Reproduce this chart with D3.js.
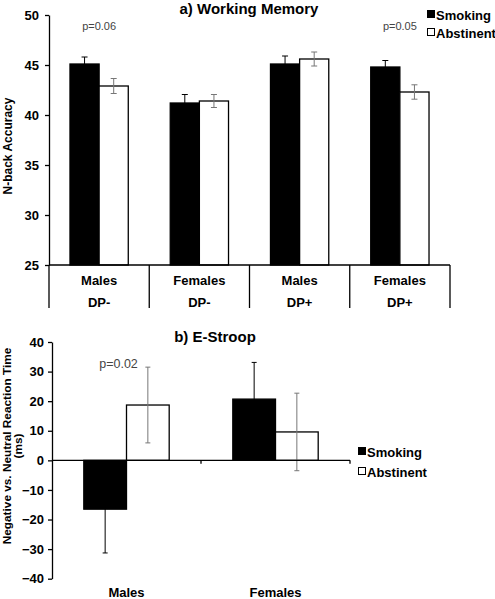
<!DOCTYPE html>
<html>
<head>
<meta charset="utf-8">
<script src="https://cdn.jsdelivr.net/npm/d3@7"></script>
<style>
  html, body { margin: 0; padding: 0; background: #fff; }
  svg { display: block; font-family: "Liberation Sans", Arial, sans-serif; }
</style>
</head>
<body>
<svg id="chart" width="495" height="599"></svg>
<script>
// ---------- data ----------
const seriesNames = ["Smoking", "Abstinent"];

// Panel a) Working Memory
const wmGenders = ["Males", "Females", "Males", "Females"];
const wmGroups = ["DP-", "DP-", "DP+", "DP+"];
const wmSmoking = [45.1, 41.2, 45.1, 44.8];
const wmSmokingSE = [0.7, 0.85, 0.8, 0.65];
const wmAbstinent = [42.9, 41.4, 45.6, 42.3];
const wmAbstinentSE = [0.75, 0.65, 0.7, 0.72];
const wmTicks = [25, 30, 35, 40, 45, 50];
const wmPvalues = [{cat: 0, text: "p=0.06"}, {cat: 3, text: "p=0.05"}];

// Panel b) E-Stroop
const esCategories = ["Males", "Females"];
const esSmoking = [-16.5, 20.7];
const esSmokingSE = [14.8, 12.4];
const esAbstinent = [18.7, 9.6];
const esAbstinentSE = [12.8, 13.1];
const esTicks = [-40, -30, -20, -10, 0, 10, 20, 30, 40];
const esPvalues = [{cat: 0, text: "p=0.02"}];

// ---------- drawing ----------
const svg = d3.select("#chart");
const fills = {Smoking: "#000", Abstinent: "#fff"};
const errColors = {Smoking: "#000", Abstinent: "#777"};

function legend(x, y, gap) {
  const g = svg.append("g").attr("transform", `translate(${x},${y})`);
  seriesNames.forEach((s, i) => {
    g.append("rect").attr("x", 0.5).attr("y", i * gap - 4.5).attr("width", 7).attr("height", 7)
      .attr("fill", fills[s]).attr("stroke", "#000").attr("stroke-width", 1);
    g.append("text").attr("x", 9).attr("y", i * gap).attr("dy", "0.35em")
      .attr("font-size", 13).attr("font-weight", "bold").text(s);
  });
}

// ===== Panel a =====
(function () {
  const left = 49, right = 450, top = 15, bottom = 265;
  const idx = d3.range(wmGenders.length);
  const x0 = d3.scaleBand().domain(idx).range([left, right]).padding(0);
  const x1 = d3.scaleBand().domain(seriesNames).range([0, x0.bandwidth()]).paddingInner(0).paddingOuter(0.72);
  const y = d3.scaleLinear().domain([25, 50]).range([bottom, top]);

  const rows = idx.map(i => ({i, vals: [
    {s: "Smoking", v: wmSmoking[i], e: wmSmokingSE[i]},
    {s: "Abstinent", v: wmAbstinent[i], e: wmAbstinentSE[i]}]}));

  const g = svg.append("g");
  const grp = g.selectAll("g.cat").data(rows).join("g")
    .attr("transform", d => `translate(${x0(d.i)},0)`);
  grp.selectAll("rect").data(d => d.vals).join("rect")
    .attr("x", d => x1(d.s)).attr("width", x1.bandwidth())
    .attr("y", d => y(d.v)).attr("height", d => y(25) - y(d.v))
    .attr("fill", d => fills[d.s]).attr("stroke", "#000").attr("stroke-width", 1.3);
  const eb = grp.selectAll("g.eb").data(d => d.vals).join("g")
    .attr("stroke", d => errColors[d.s]).attr("stroke-width", 1);
  eb.append("line").attr("x1", d => x1(d.s) + x1.bandwidth() / 2).attr("x2", d => x1(d.s) + x1.bandwidth() / 2)
    .attr("y1", d => y(d.v - d.e)).attr("y2", d => y(d.v + d.e));
  eb.append("line").attr("x1", d => x1(d.s) + x1.bandwidth() / 2 - 3).attr("x2", d => x1(d.s) + x1.bandwidth() / 2 + 3)
    .attr("y1", d => y(d.v + d.e)).attr("y2", d => y(d.v + d.e));
  eb.filter(d => d.s === "Abstinent").append("line")
    .attr("x1", d => x1(d.s) + x1.bandwidth() / 2 - 3).attr("x2", d => x1(d.s) + x1.bandwidth() / 2 + 3)
    .attr("y1", d => y(d.v - d.e)).attr("y2", d => y(d.v - d.e));

  const ya = g.append("g").attr("transform", `translate(${left},0)`)
    .call(d3.axisLeft(y).tickValues(wmTicks).tickSize(4).tickPadding(6).tickSizeOuter(0));
  ya.select(".domain").attr("stroke", "#000").attr("stroke-width", 1.3);
  ya.selectAll("text").attr("font-size", 13).attr("font-weight", "bold").attr("fill", "#000")
    .attr("font-family", "Liberation Sans, Arial, sans-serif");
  ya.selectAll(".tick line").attr("stroke-width", 1.3);

  const lineBottom = 308;
  g.append("line").attr("x1", left).attr("x2", right).attr("y1", bottom).attr("y2", bottom)
    .attr("stroke", "#000").attr("stroke-width", 1.3);
  const bounds = [left].concat(idx.map(i => x0(i) + x0.bandwidth()));
  g.selectAll("line.div").data(bounds).join("line")
    .attr("x1", d => d).attr("x2", d => d).attr("y1", bottom).attr("y2", lineBottom)
    .attr("stroke", "#000").attr("stroke-width", 1.3);
  g.selectAll("text.gen").data(idx).join("text")
    .attr("x", i => x0(i) + x0.bandwidth() / 2).attr("y", 280).attr("dy", "0.35em")
    .attr("text-anchor", "middle").attr("font-size", 13).attr("font-weight", "bold")
    .text(i => wmGenders[i]);
  g.selectAll("text.grp").data(idx).join("text")
    .attr("x", i => x0(i) + x0.bandwidth() / 2).attr("y", 302).attr("dy", "0.35em")
    .attr("text-anchor", "middle").attr("font-size", 13).attr("font-weight", "bold")
    .text(i => wmGroups[i]);

  g.selectAll("text.p").data(wmPvalues).join("text")
    .attr("x", d => x0(d.cat) + x0.bandwidth() / 2).attr("y", 26).attr("dy", "0.35em")
    .attr("text-anchor", "middle").attr("font-size", 11).attr("fill", "#444").text(d => d.text);

  g.append("text").attr("x", 249).attr("y", 13.5).attr("text-anchor", "middle")
    .attr("font-size", 15).attr("font-weight", "bold").text("a) Working Memory");
  g.append("text").attr("transform", "translate(8,146) rotate(-90)").attr("dy", "0.35em")
    .attr("text-anchor", "middle").attr("font-size", 12).attr("font-weight", "bold").text("N-back Accuracy");
  legend(427, 15, 18);
})();

// ===== Panel b =====
(function () {
  const left = 52, right = 350, top = 342, bottom = 578.7;
  const x0 = d3.scaleBand().domain(esCategories).range([left, right]).padding(0);
  const x1 = d3.scaleBand().domain(seriesNames).range([0, x0.bandwidth()]).paddingInner(0).paddingOuter(0.745);
  const y = d3.scaleLinear().domain([-40, 40]).range([bottom, top]);

  const rows = esCategories.map((c, i) => ({c, vals: [
    {s: "Smoking", v: esSmoking[i], e: esSmokingSE[i]},
    {s: "Abstinent", v: esAbstinent[i], e: esAbstinentSE[i]}]}));

  const g = svg.append("g");
  const grp = g.selectAll("g.cat").data(rows).join("g")
    .attr("transform", d => `translate(${x0(d.c)},0)`);
  grp.selectAll("rect").data(d => d.vals).join("rect")
    .attr("x", d => x1(d.s)).attr("width", x1.bandwidth())
    .attr("y", d => y(Math.max(0, d.v))).attr("height", d => Math.abs(y(d.v) - y(0)))
    .attr("fill", d => fills[d.s]).attr("stroke", "#000").attr("stroke-width", 1.3);
  const eb = grp.selectAll("g.eb").data(d => d.vals).join("g")
    .attr("stroke", d => errColors[d.s]).attr("stroke-width", 1);
  eb.append("line").attr("x1", d => x1(d.s) + x1.bandwidth() / 2).attr("x2", d => x1(d.s) + x1.bandwidth() / 2)
    .attr("y1", d => y(d.v - d.e)).attr("y2", d => y(d.v + d.e));
  eb.append("line").attr("x1", d => x1(d.s) + x1.bandwidth() / 2 - 2.5).attr("x2", d => x1(d.s) + x1.bandwidth() / 2 + 2.5)
    .attr("y1", d => y(d.v + d.e)).attr("y2", d => y(d.v + d.e));
  eb.append("line").attr("x1", d => x1(d.s) + x1.bandwidth() / 2 - 2.5).attr("x2", d => x1(d.s) + x1.bandwidth() / 2 + 2.5)
    .attr("y1", d => y(d.v - d.e)).attr("y2", d => y(d.v - d.e));

  const ya = g.append("g").attr("transform", `translate(${left},0)`)
    .call(d3.axisLeft(y).tickValues(esTicks).tickSize(4).tickPadding(4).tickSizeOuter(0));
  ya.select(".domain").attr("stroke", "#000").attr("stroke-width", 1.3);
  ya.selectAll("text").attr("font-size", 13).attr("font-weight", "bold").attr("fill", "#000")
    .attr("font-family", "Liberation Sans, Arial, sans-serif");
  ya.selectAll(".tick line").attr("stroke-width", 1.3);

  g.append("line").attr("x1", left).attr("x2", right).attr("y1", y(0)).attr("y2", y(0))
    .attr("stroke", "#000").attr("stroke-width", 1.3);
  const bounds = esCategories.map(c => x0(c) + x0.bandwidth());
  g.selectAll("line.tk").data(bounds).join("line")
    .attr("x1", d => d).attr("x2", d => d).attr("y1", y(0)).attr("y2", y(0) + 3.5)
    .attr("stroke", "#000").attr("stroke-width", 1.3);
  g.selectAll("text.cat").data(esCategories).join("text")
    .attr("x", c => x0(c) + x0.bandwidth() / 2).attr("y", 597)
    .attr("text-anchor", "middle").attr("font-size", 13).attr("font-weight", "bold").text(c => c);

  g.selectAll("text.p").data(esPvalues).join("text")
    .attr("x", d => x0(esCategories[d.cat]) + x0.bandwidth() / 2 - 8).attr("y", 364).attr("dy", "0.35em")
    .attr("text-anchor", "middle").attr("font-size", 12.5).attr("fill", "#444").text(d => d.text);

  g.append("text").attr("x", 215).attr("y", 337).attr("dy", "0.35em").attr("text-anchor", "middle")
    .attr("font-size", 15).attr("font-weight", "bold").text("b) E-Stroop");

  const yl = g.append("text").attr("transform", "translate(7,446) rotate(-90)")
    .attr("text-anchor", "middle").attr("font-size", 11.8).attr("font-weight", "bold");
  yl.append("tspan").attr("x", 0).attr("dy", "0.3em").text("Negative vs. Neutral Reaction Time");
  yl.append("tspan").attr("x", 0).attr("dy", "0.95em").text("(ms)");

  legend(358, 452, 20);
})();
</script>
</body>
</html>
